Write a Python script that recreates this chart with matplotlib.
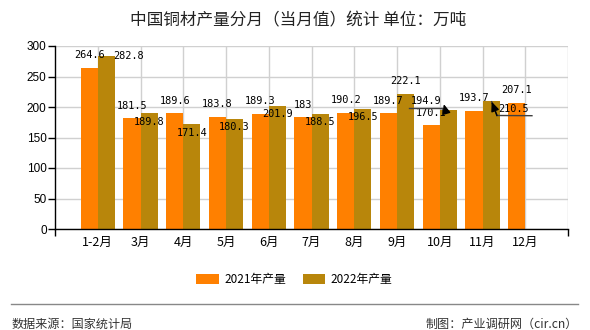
import matplotlib
matplotlib.use("Agg")
import matplotlib.pyplot as plt
from matplotlib.lines import Line2D
import numpy as np

plt.rcParams['font.family'] = ['Noto Sans CJK SC', 'DejaVu Sans']

# ---- data ----
categories = ['1-2月', '3月', '4月', '5月', '6月', '7月', '8月', '9月', '10月', '11月', '12月']
values_2021 = [264.6, 181.5, 189.6, 183.8, 189.3, 183, 190.2, 189.7, 170.1, 193.7, 207.1]
values_2022 = [282.8, 189.8, 171.4, 180.3, 201.9, 188.5, 196.5, 222.1, 194.9, 210.5]
series_names = ['2021年产量', '2022年产量']
yticks = [0, 50, 100, 150, 200, 250, 300]
title = '中国铜材产量分月（当月值）统计 单位：万吨'
source_text = '数据来源：国家统计局'
credit_text = '制图：产业调研网（cir.cn）'

# ---- layout / style ----
c2021 = '#FF8000'
c2022 = '#B8860B'
bw = 0.4
lbl_font = dict(family='DejaVu Sans Mono', fontsize=7.4, color='black')

# label offsets in pixels (dx, dy-up) relative to bar top centre
off_2021 = [(0, 12.5)] * len(values_2021)
off_2022 = [(22, 0.8), (0, -8.3), (0, -8.6), (0, -8.3), (0, -8.2), (0, -8.0),
            (0, -8.2), (0, 12.2), (-22, 9.1), (22, -8.7)]

fig = plt.figure(figsize=(5.9, 3.3), dpi=100)
ax = fig.add_axes([55/590, 1-229/330, 513/590, 183/330])

x = np.arange(len(categories))
x22 = np.arange(len(values_2022))
b1 = ax.bar(x - bw/2, values_2021, width=bw, color=c2021, zorder=3, label=series_names[0])
b2 = ax.bar(x22 + bw/2, values_2022, width=bw, color=c2022, zorder=3, label=series_names[1])

ax.set_xlim(-1, len(categories))
ax.set_ylim(0, 300)
ax.set_yticks(yticks)
ax.set_xticks(x)
ax.set_xticklabels(categories, fontsize=9, color='black')
ax.set_xticks([-1, len(categories)], minor=True)
ax.tick_params(axis='x', which='major', length=0, pad=5)
ax.tick_params(axis='x', which='minor', length=5, width=1, color='black')
ax.tick_params(axis='y', length=5, width=1, pad=1, labelsize=8.5, color='black')
for lab in ax.get_yticklabels():
    lab.set_family('Liberation Sans')

ax.grid(True, axis='both', which='major', color='#d0d0d0', lw=1, zorder=0)
ax.axvline(len(categories), color='#d0d0d0', lw=1, zorder=0)
for s in ['top', 'right']:
    ax.spines[s].set_visible(False)
for s in ['left', 'bottom']:
    ax.spines[s].set_color('black')
    ax.spines[s].set_linewidth(1)
    ax.spines[s].set_zorder(4)

# value labels
for xi, v, (dx, dy) in zip(x - bw/2, values_2021, off_2021):
    ax.annotate(f'{v:g}', xy=(xi, v), xytext=(dx, dy), textcoords='offset pixels',
                ha='center', va='center', zorder=5, **lbl_font)
for xi, v, (dx, dy) in zip(x22 + bw/2, values_2022, off_2022):
    ax.annotate(f'{v:g}', xy=(xi, v), xytext=(dx, dy), textcoords='offset pixels',
                ha='center', va='center', zorder=5, **lbl_font)

# leader lines for displaced labels (pixel offsets relative to bar top centre):
# [line start, line end, arrow start, arrow tip]
leaders = {8: [(-39.4, 2.6), (-3.5, 2.6), (-2.5, -1.0), (-4.5, 6.0)],
           9: [(40.9, -15.1), (5.9, -14.9), (5.9, -14.9), (0.6, -1.1)]}
for i, pts in leaders.items():
    anchor = (x22[i] + bw/2, values_2022[i])
    disp = ax.transData.transform(anchor)
    xs = [disp[0] + p[0] for p in pts]
    ys = [disp[1] + p[1] for p in pts]
    ax.add_line(Line2D(xs[:2], ys[:2], transform=None, color='#404040', lw=1, zorder=6))
    if i == 9:
        ax.add_line(Line2D(xs[2:], ys[2:], transform=None, color='#404040', lw=1, zorder=6))
    ax.annotate('', xy=(xs[3], ys[3]), xycoords='figure pixels',
                xytext=(xs[2], ys[2]), textcoords='figure pixels',
                arrowprops=dict(arrowstyle='-|>,head_length=0.7,head_width=0.3',
                                mutation_scale=8, color='black', lw=1,
                                shrinkA=0, shrinkB=0), zorder=6)

# title
fig.text(0.506, 0.936, title, ha='center', va='center', fontsize=12, color='#222222')

# legend
fig.legend(handles=[b1, b2], labels=series_names, loc='center', bbox_to_anchor=(0.499, 0.153),
           ncol=2, frameon=False, fontsize=8.5, handlelength=1.9, handleheight=0.85,
           handletextpad=0.45, columnspacing=1.45, borderpad=0)

# footer
fig.add_artist(Line2D([10.7/590, 578/590], [1-303.8/330, 1-303.8/330], transform=fig.transFigure,
                      color='#888888', lw=1))
fig.text(12/590, 1-324/330, source_text, ha='left', va='center', fontsize=8.7, color='#333333')
fig.text(578/590, 1-324/330, credit_text, ha='right', va='center', fontsize=8.7, color='#333333')

fig.savefig('out.png', dpi=100)
